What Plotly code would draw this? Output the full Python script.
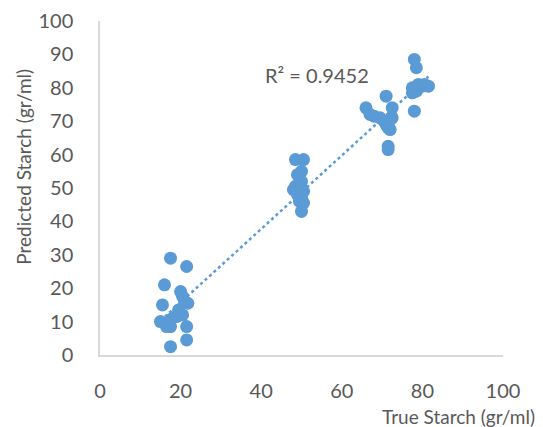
import numpy as np
import plotly.graph_objects as go

true_starch = [17.5, 21.5, 16, 15.5, 20, 20.5, 21, 21.8, 19.5, 20.5, 19, 18, 17.5, 15, 16, 16.5, 17.5, 21.5, 17.5, 21.5,
               48.5, 50.5, 50, 49, 50, 48, 48.5, 49, 50, 50.5, 50, 49.5, 50.5, 50,
               78, 78.5, 79, 80, 81.5, 80.5, 77.5, 77.5, 78.5, 78, 71, 66, 67, 68, 69.5, 70.5, 71, 71.5, 72, 72, 72.5, 72.5, 71.5, 71.5]
pred_starch = [29, 26.5, 21, 15, 19, 17.5, 16, 15.5, 13.5, 12, 11.5, 11, 10.5, 10, 9.5, 8.5, 8.5, 8.5, 2.5, 4.5,
               58.5, 58.5, 55, 54, 52, 49.5, 50.5, 48, 50, 49, 47, 46, 45.5, 43,
               88.5, 86, 81, 80.5, 80.5, 81, 80, 78.5, 79, 73, 77.5, 74, 72, 71.5, 71, 70, 69, 68, 67.5, 70.5, 71, 74, 62.5, 61.5]
tick_vals = [0, 20, 40, 60, 80, 100]
ytick_vals = [0, 10, 20, 30, 40, 50, 60, 70, 80, 90, 100]
r2_label = "R² = 0.9452"
x_title = "True Starch (gr/ml)"
y_title = "Predicted Starch (gr/ml)"

x = np.array(true_starch)
y = np.array(pred_starch)
slope, intercept = np.polyfit(x, y, 1)
xl = np.array([x.min(), x.max()])
yl = slope * xl + intercept

blue = "#5B9BD5"
grey = "#595959"
font = "Lato"

fig = go.Figure()
fig.add_trace(go.Scatter(x=x, y=y, mode="markers",
                         marker=dict(color=blue, size=13, line=dict(width=0)),
                         showlegend=False))
fig.add_trace(go.Scatter(x=xl, y=yl, mode="lines",
                         line=dict(color=blue, width=2.5, dash="dot"),
                         showlegend=False))

fig.update_layout(
    width=535, height=419,
    margin=dict(l=92, r=40, t=13, b=72, autoexpand=False),
    paper_bgcolor="white", plot_bgcolor="white",
    font=dict(family=font, size=20, color=grey),
    xaxis=dict(range=[0, 100], tickvals=tick_vals, showgrid=False, zeroline=False,
               showline=True, linecolor="#D9D9D9", linewidth=1.5, ticks="",
               ticklabelstandoff=17, tickfont=dict(size=20, color=grey)),
    yaxis=dict(range=[0, 100], tickvals=ytick_vals, showgrid=False, zeroline=False,
               showline=True, linecolor="#D9D9D9", linewidth=1.5, ticks="",
               ticklabelstandoff=21, tickfont=dict(size=20, color=grey)),
    annotations=[
        dict(text=r2_label, x=53.8, y=83.8, xref="x", yref="y", showarrow=False,
             font=dict(size=20, color=grey)),
        dict(text=x_title, x=1.085, y=-0.183, xref="paper", yref="paper",
             xanchor="right", yanchor="middle", showarrow=False,
             font=dict(size=19, color=grey)),
        dict(text=y_title, x=-0.19, y=0.565, xref="paper", yref="paper",
             xanchor="center", yanchor="middle", textangle=-90, showarrow=False,
             font=dict(size=19, color=grey)),
    ],
)

fig.write_html("out.html")
